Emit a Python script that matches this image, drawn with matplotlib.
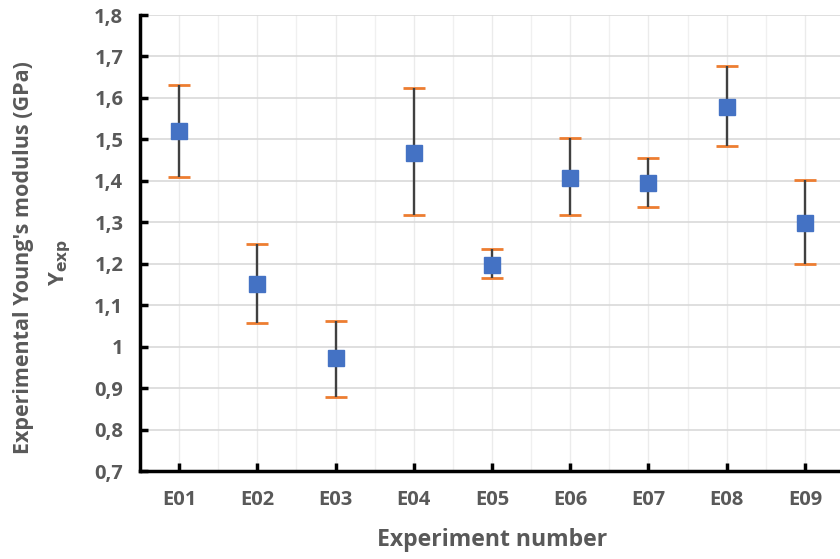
import matplotlib
matplotlib.use("Agg")
import matplotlib.pyplot as plt
from matplotlib.ticker import FuncFormatter, MultipleLocator
import numpy as np

experiments = ["E01", "E02", "E03", "E04", "E05", "E06", "E07", "E08", "E09"]
y_exp = [1.52, 1.15, 0.972, 1.467, 1.197, 1.407, 1.394, 1.578, 1.298]
y_low = [1.410, 1.057, 0.879, 1.318, 1.165, 1.318, 1.336, 1.483, 1.200]
y_high = [1.631, 1.248, 1.063, 1.624, 1.236, 1.503, 1.455, 1.676, 1.401]

plt.rcParams['font.family'] = ['Open Sans', 'DejaVu Sans']
gray = "#595959"

fig = plt.figure(figsize=(8.4, 5.59), dpi=100)
ax = fig.add_axes([140/840, 88/559, 704/840, 456/559])

x = np.arange(len(experiments))
yv = np.array(y_exp)
err = [yv - np.array(y_low), np.array(y_high) - yv]
line, caps, bars = ax.errorbar(x, yv, yerr=err, fmt='s', color='#4472C4',
                               markersize=11.5, ecolor='#404040', elinewidth=1.7,
                               capsize=8, capthick=2, zorder=3)
for c in caps:
    c.set_color('#ED7D31')
    c.set_markeredgecolor('#ED7D31')
    c.set_markerfacecolor('#ED7D31')
    c.set_zorder(2)

ax.set_xlim(-0.5, len(experiments) - 0.5)
ax.set_ylim(0.7, 1.8)
ax.yaxis.set_major_locator(MultipleLocator(0.1))
ax.yaxis.set_major_formatter(FuncFormatter(
    lambda v, p: (str(int(round(v))) if abs(v - round(v)) < 1e-9 else f"{v:.1f}").replace('.', ',')))
ax.set_xticks(x)
ax.set_xticklabels(experiments)
ax.set_xticks(np.arange(-0.5, len(experiments), 1.0), minor=True)

ax.grid(axis='y', which='major', color='#d9d9d9', linewidth=1.2, zorder=0)
ax.grid(axis='x', which='major', color='#ebebeb', linewidth=1.0, zorder=0)
ax.grid(axis='x', which='minor', color='#f0f0f0', linewidth=1.0, zorder=0)
ax.set_axisbelow(True)

for s in ['top', 'right']:
    ax.spines[s].set_visible(False)
for s in ['left', 'bottom']:
    ax.spines[s].set_linewidth(2.5)
    ax.spines[s].set_color('black')

ax.tick_params(axis='both', which='major', direction='in', length=6, width=2.5,
               colors='black', labelcolor=gray, labelsize=14.5)
ax.tick_params(axis='x', which='minor', length=0)
ax.tick_params(axis='x', pad=14)
ax.tick_params(axis='y', pad=12)
for lab in ax.get_xticklabels() + ax.get_yticklabels():
    lab.set_fontweight('bold')

fig.text(492/840, 1 - 540/559, "Experiment number", ha='center', va='center',
         fontsize=16.6, fontweight='bold', color=gray)
fig.text(24/840, 1 - 258/559, "Experimental Young's modulus (GPa)", ha='center', va='center',
         rotation=90, fontsize=15.5, fontweight='bold', color=gray)
fig.text(60/840, 1 - 262/559, r"Y$_{\mathbf{exp}}$", ha='center', va='center',
         rotation=90, fontsize=16.0, fontweight='bold', color=gray)

fig.savefig("out.png", dpi=100)
